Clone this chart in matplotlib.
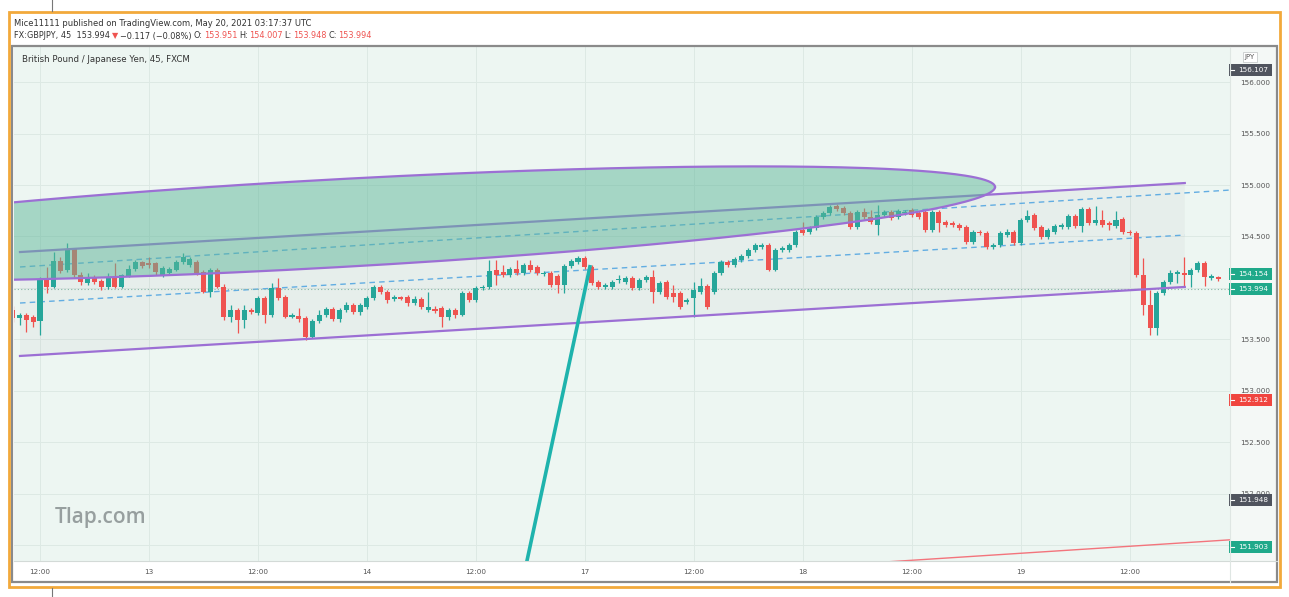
import numpy as np
import matplotlib
matplotlib.use('Agg')
import matplotlib.pyplot as plt
from matplotlib.patches import Rectangle, Polygon
from matplotlib.lines import Line2D

W, H = 1289, 597

# GBPJPY 45m candles, bar index 0 = 12:00 of day 12
first_bar = -4
opens = [
    153.786, 153.709, 153.738, 153.718, 153.680, 154.087, 154.010, 154.262, 154.175, 154.379,
    154.126, 154.048, 154.107, 154.068, 154.010, 154.107, 154.010, 154.116, 154.184, 154.252,
    154.243, 154.243, 154.126, 154.146, 154.175, 154.252, 154.223, 154.252, 154.155, 153.961,
    154.175, 154.010, 153.718, 153.786, 153.689, 153.786, 153.757, 153.903, 153.738, 154.000,
    153.913, 153.718, 153.728, 153.709, 153.524, 153.680, 153.738, 153.796, 153.699, 153.786,
    153.835, 153.767, 153.815, 153.903, 154.010, 153.961, 153.893, 153.913, 153.913, 153.854,
    153.893, 153.786, 153.796, 153.806, 153.718, 153.786, 153.738, 153.951, 153.883, 154.000,
    154.010, 154.175, 154.155, 154.126, 154.184, 154.146, 154.223, 154.204, 154.136, 154.146,
    154.116, 154.029, 154.214, 154.252, 154.291, 154.204, 154.058, 154.010, 154.010, 154.078,
    154.058, 154.097, 154.000, 154.078, 154.107, 153.961, 154.058, 153.951, 153.951, 153.864,
    153.903, 153.961, 154.019, 153.961, 154.146, 154.252, 154.223, 154.272, 154.311, 154.369,
    154.398, 154.417, 154.175, 154.369, 154.369, 154.417, 154.563, 154.543, 154.582, 154.689,
    154.728, 154.796, 154.777, 154.728, 154.592, 154.738, 154.689, 154.611, 154.709, 154.738,
    154.689, 154.728, 154.757, 154.728, 154.738, 154.563, 154.738, 154.641, 154.631, 154.611,
    154.592, 154.447, 154.543, 154.534, 154.398, 154.417, 154.514, 154.543, 154.437, 154.660,
    154.709, 154.592, 154.495, 154.543, 154.592, 154.592, 154.699, 154.602, 154.767, 154.631,
    154.660, 154.631, 154.602, 154.670, 154.543, 154.534, 154.126, 153.835, 153.612, 153.951,
    154.058, 154.136, 154.146, 154.126, 154.175, 154.243, 154.097, 154.107,
]
highs = [
    153.825, 153.757, 153.757, 153.738, 154.107, 154.204, 154.349, 154.301, 154.437, 154.388,
    154.155, 154.146, 154.126, 154.087, 154.146, 154.243, 154.136, 154.223, 154.272, 154.262,
    154.301, 154.252, 154.214, 154.204, 154.272, 154.340, 154.301, 154.272, 154.175, 154.194,
    154.194, 154.039, 153.835, 153.806, 153.835, 153.806, 153.922, 153.922, 154.048, 154.097,
    153.932, 153.757, 153.806, 153.728, 153.699, 153.786, 153.815, 153.815, 153.806, 153.864,
    153.854, 153.854, 153.922, 154.029, 154.029, 153.981, 153.932, 153.922, 153.932, 153.922,
    153.913, 153.961, 153.825, 153.825, 153.806, 153.806, 153.971, 153.971, 154.019, 154.029,
    154.272, 154.272, 154.223, 154.204, 154.272, 154.243, 154.272, 154.223, 154.165, 154.165,
    154.136, 154.233, 154.281, 154.311, 154.311, 154.223, 154.078, 154.048, 154.078, 154.126,
    154.116, 154.116, 154.097, 154.126, 154.175, 154.068, 154.078, 154.029, 153.971, 153.903,
    154.058, 154.097, 154.039, 154.165, 154.272, 154.272, 154.301, 154.330, 154.388, 154.437,
    154.437, 154.437, 154.388, 154.408, 154.437, 154.563, 154.641, 154.602, 154.709, 154.747,
    154.806, 154.815, 154.796, 154.747, 154.757, 154.777, 154.757, 154.806, 154.757, 154.757,
    154.767, 154.757, 154.777, 154.747, 154.757, 154.757, 154.757, 154.660, 154.650, 154.631,
    154.611, 154.563, 154.563, 154.553, 154.437, 154.553, 154.573, 154.563, 154.679, 154.757,
    154.728, 154.611, 154.582, 154.621, 154.631, 154.718, 154.718, 154.786, 154.786, 154.796,
    154.757, 154.650, 154.747, 154.689, 154.563, 154.553, 154.291, 153.981, 153.971, 154.078,
    154.175, 154.175, 154.301, 154.194, 154.262, 154.262, 154.136, 154.116,
]
lows = [
    153.670, 153.641, 153.573, 153.621, 153.544, 153.951, 154.000, 154.146, 154.155, 154.107,
    154.029, 154.029, 154.039, 153.981, 153.990, 154.000, 154.000, 154.107, 154.165, 154.194,
    154.194, 154.126, 154.107, 154.126, 154.165, 154.233, 154.204, 154.126, 153.951, 153.913,
    154.000, 153.689, 153.670, 153.563, 153.612, 153.748, 153.738, 153.660, 153.718, 153.883,
    153.709, 153.709, 153.670, 153.495, 153.514, 153.660, 153.718, 153.680, 153.670, 153.767,
    153.748, 153.738, 153.796, 153.883, 153.942, 153.854, 153.874, 153.883, 153.825, 153.835,
    153.796, 153.767, 153.757, 153.621, 153.689, 153.709, 153.728, 153.864, 153.864, 153.981,
    153.990, 154.029, 154.107, 154.107, 154.126, 154.126, 154.155, 154.126, 154.116, 154.010,
    153.951, 153.951, 154.194, 154.233, 154.184, 154.029, 153.990, 153.990, 153.990, 154.048,
    154.039, 153.981, 153.981, 154.058, 153.854, 153.942, 153.893, 153.864, 153.796, 153.845,
    153.718, 153.942, 153.796, 153.942, 154.126, 154.204, 154.204, 154.252, 154.291, 154.349,
    154.379, 154.165, 154.165, 154.349, 154.349, 154.398, 154.514, 154.524, 154.563, 154.670,
    154.709, 154.747, 154.709, 154.573, 154.573, 154.670, 154.621, 154.514, 154.689, 154.660,
    154.670, 154.709, 154.689, 154.670, 154.543, 154.543, 154.543, 154.592, 154.592, 154.563,
    154.427, 154.427, 154.514, 154.379, 154.379, 154.398, 154.495, 154.417, 154.417, 154.641,
    154.563, 154.476, 154.476, 154.524, 154.573, 154.573, 154.582, 154.543, 154.611, 154.611,
    154.592, 154.563, 154.582, 154.524, 154.514, 154.107, 153.738, 153.544, 153.544, 153.932,
    154.039, 154.048, 154.019, 154.010, 154.155, 154.019, 154.078, 154.068,
]
closes = [
    153.709, 153.738, 153.689, 153.670, 154.078, 154.010, 154.262, 154.165, 154.369, 154.126,
    154.058, 154.107, 154.058, 154.010, 154.097, 154.010, 154.126, 154.184, 154.252, 154.214,
    154.223, 154.155, 154.194, 154.184, 154.252, 154.301, 154.281, 154.146, 153.961, 154.175,
    154.010, 153.718, 153.786, 153.689, 153.786, 153.767, 153.903, 153.738, 154.000, 153.903,
    153.718, 153.738, 153.699, 153.524, 153.680, 153.738, 153.796, 153.699, 153.786, 153.835,
    153.767, 153.835, 153.903, 154.010, 153.961, 153.883, 153.913, 153.893, 153.854, 153.893,
    153.815, 153.815, 153.777, 153.718, 153.786, 153.738, 153.951, 153.883, 154.000, 154.010,
    154.165, 154.126, 154.126, 154.184, 154.146, 154.223, 154.175, 154.146, 154.146, 154.029,
    154.029, 154.214, 154.262, 154.291, 154.204, 154.048, 154.010, 154.029, 154.058, 154.087,
    154.097, 154.000, 154.078, 154.107, 153.961, 154.048, 153.913, 153.913, 153.815, 153.883,
    153.981, 154.019, 153.815, 154.146, 154.252, 154.223, 154.281, 154.311, 154.369, 154.417,
    154.417, 154.175, 154.369, 154.388, 154.417, 154.543, 154.534, 154.582, 154.689, 154.728,
    154.786, 154.767, 154.728, 154.592, 154.738, 154.689, 154.641, 154.709, 154.738, 154.679,
    154.747, 154.738, 154.709, 154.689, 154.563, 154.738, 154.631, 154.611, 154.611, 154.582,
    154.447, 154.543, 154.534, 154.398, 154.417, 154.534, 154.543, 154.437, 154.660, 154.699,
    154.582, 154.495, 154.563, 154.602, 154.611, 154.699, 154.602, 154.767, 154.631, 154.660,
    154.611, 154.611, 154.660, 154.543, 154.534, 154.126, 153.835, 153.612, 153.951, 154.058,
    154.146, 154.155, 154.126, 154.175, 154.243, 154.107, 154.116, 154.087,
]

time_ticks = [0, 16, 32, 48, 64, 80, 96, 112, 128, 144, 160]
time_labels = ['12:00', '13', '12:00', '14', '12:00', '17', '12:00', '18', '12:00', '19', '12:00']
price_ticks = [151.5, 152.0, 152.5, 153.0, 153.5, 154.0, 154.5, 155.0, 155.5, 156.0]
x_range = (-3.82, 174.74)
y_range = (151.349, 156.340)

# drawings (anchor points in bar / price)
channel_x = [-2.94, 168.1]
channel_top = [154.349, 155.019]
channel_bottom = [153.340, 154.010]
channel_mid = [153.854, 154.514]
upper_dash_x = [-2.94, 174.74]
upper_dash_y = [154.204, 154.951]
ellipse_center = (42.58, 154.625)
ellipse_axis_1 = (97.65, 0.3553)
ellipse_axis_2 = (0.0, 0.4272)
ray_x = [70.37, 80.8]
ray_y = [151.0, 154.223]
red_line_x = [120.0, 176.0]
red_line_y = [151.322, 151.560]
last_price = 153.994

tag_texts = ['156.107', '154.154', '153.994', '152.912', '151.948', '151.903']
tag_prices = [156.117, 154.136, 153.990, 152.912, 151.942, 151.485]
tag_colors = ['#50545e', '#1fa98a', '#1fa98a', '#f0453f', '#50545e', '#1fa98a']

UP = '#26a69a'
DOWN = '#ef5350'
PURPLE = '#9c6fd4'
DASH = '#62ade2'
DARK = '#333333'


def fx(px):
    return px / W


def fy(py):
    return 1 - py / H


fig = plt.figure(figsize=(W / 100, H / 100), dpi=100)
fig.patch.set_facecolor('white')

# price scale background
fig.add_artist(Rectangle((fx(1230), fy(561)), (1276 - 1230) / W, (561 - 47) / H,
                         transform=fig.transFigure, fc='#f4f8f6', ec='none', zorder=-2))

ax = fig.add_axes([fx(14), fy(561), (1230 - 14) / W, (561 - 47) / H])
ax.set_facecolor('#edf6f2')
ax.set_xlim(*x_range)
ax.set_ylim(*y_range)
for s in ax.spines.values():
    s.set_visible(False)
ax.set_xticks(time_ticks, time_labels)
ax.yaxis.tick_right()
ax.set_yticks(price_ticks, ['%.3f' % p for p in price_ticks])
ax.tick_params(axis='x', length=0, pad=6, labelsize=5.2, labelcolor='#555555')
ax.tick_params(axis='y', length=0, pad=7, labelsize=5.2, labelcolor='#555555')
ax.grid(True, color='#dde9e4', lw=0.7)
ax.set_axisbelow(True)

# channel
ax.add_patch(Polygon([[channel_x[0], channel_top[0]], [channel_x[1], channel_top[1]],
                      [channel_x[1], channel_bottom[1]], [channel_x[0], channel_bottom[0]]],
                     closed=True, fc='#969a9a', alpha=0.08, ec='none', zorder=1))
ax.plot(channel_x, channel_top, color=PURPLE, lw=1.6, zorder=4)
ax.plot(channel_x, channel_bottom, color=PURPLE, lw=1.6, zorder=4)
ax.plot(channel_x, channel_mid, color=DASH, lw=1.0, ls=(0, (4, 3)), zorder=2)
ax.plot(upper_dash_x, upper_dash_y, color=DASH, lw=1.0, ls=(0, (4, 3)), zorder=2)
ax.axhline(last_price, color='#86b8a6', lw=0.8, ls=(0, (1, 2)), zorder=2)

# candles
o = np.array(opens)
h = np.array(highs)
l = np.array(lows)
c = np.array(closes)
idx = np.arange(first_bar, first_bar + len(o))
cols = np.where(c >= o, UP, DOWN)
ax.vlines(idx, l, h, colors=cols, lw=0.9, zorder=3)
ax.bar(idx, np.maximum(np.abs(c - o), 0.008), bottom=np.minimum(o, c), width=0.74,
       color=cols, lw=0, zorder=3)

# ellipse
t = np.linspace(0, 2 * np.pi, 400)
ex = ellipse_center[0] + ellipse_axis_1[0] * np.cos(t) + ellipse_axis_2[0] * np.sin(t)
ey = ellipse_center[1] + ellipse_axis_1[1] * np.cos(t) + ellipse_axis_2[1] * np.sin(t)
ax.fill(ex, ey, fc='#5fb79a', alpha=0.5, ec='none', zorder=4)
ax.plot(ex, ey, color=PURPLE, lw=1.6, zorder=4)

# other drawings
ax.plot(ray_x, ray_y, color='#1eb3ad', lw=2.6, zorder=5, solid_capstyle='butt')
ax.plot(red_line_x, red_line_y, color='#f3747c', lw=1.0, zorder=5)

# price tags on the scale
ytr = ax.get_yaxis_transform()
ax_w = 1230 - 14
for txt, p, col in zip(tag_texts, tag_prices, tag_colors):
    ax.add_patch(Rectangle(((1229 - 14) / ax_w, p - 0.058), 43 / ax_w, 0.116, transform=ytr,
                           fc=col, ec='none', clip_on=False, zorder=6))
    ax.plot([(1230 - 14) / ax_w, (1234 - 14) / ax_w], [p, p], transform=ytr, color='white',
            lw=0.8, clip_on=False, zorder=7)
    ax.text((1253 - 14) / ax_w, p, txt, transform=ytr, color='white', fontsize=5.2,
            ha='center', va='center', clip_on=False, zorder=7)
ax.text((1250 - 14) / ax_w, 156.243, 'JPY', transform=ytr, color='#555555', fontsize=5,
        ha='center', va='center', clip_on=False, zorder=7,
        bbox=dict(boxstyle='square,pad=0.3', fc='white', ec='#c8cccc', lw=0.6))

# frame lines
fig.add_artist(Line2D([fx(14), fx(1277)], [fy(561), fy(561)], color='#d3dad7', lw=0.8))
fig.add_artist(Line2D([fx(1230), fx(1230)], [fy(47), fy(582)], color='#dfe6e3', lw=0.8))
fig.add_artist(Rectangle((fx(12), fy(582)), (1277 - 12) / W, (582 - 46) / H,
                         transform=fig.transFigure, fill=False, ec='#8a8a8a', lw=1.6))
fig.add_artist(Rectangle((fx(9), fy(587)), (1280 - 9) / W, (587 - 12) / H,
                         transform=fig.transFigure, fill=False, ec='#f2a93b', lw=2.0))
fig.add_artist(Line2D([fx(52), fx(52)], [fy(0), fy(11)], color='#777777', lw=0.8))
fig.add_artist(Line2D([fx(52), fx(52)], [fy(588), fy(597)], color='#777777', lw=0.8))

# header
fig.text(fx(14), fy(24), 'Mice11111 published on TradingView.com, May 20, 2021 03:17:37 UTC',
         fontsize=6, color=DARK, va='center')
renderer = fig.canvas.get_renderer()
parts = [('FX:GBPJPY, 45  153.994', DARK, 2), ('\u25bc', DOWN, 2), ('\u22120.117 (\u22120.08%)', DARK, 2),
         ('O:', DARK, 1), ('153.951', DOWN, 2), ('H:', DARK, 1), ('154.007', DOWN, 2),
         ('L:', DARK, 1), ('153.948', DOWN, 2), ('C:', DARK, 1), ('153.994', DOWN, 0)]
x = 14
for s, col, gap in parts:
    tx = fig.text(fx(x), fy(36), s, fontsize=5.9, color=col, va='center')
    x = tx.get_window_extent(renderer).x1 + gap

fig.text(fx(22), fy(60), 'British Pound / Japanese Yen, 45, FXCM', fontsize=6.2, color=DARK, va='center')
fig.text(fx(55), fy(518), 'Tlap.com', fontsize=15, color='#979f9f', va='center',
         family=['Open Sans', 'DejaVu Sans'], fontweight='semibold')

fig.savefig('out.png', dpi=100, facecolor='white')
